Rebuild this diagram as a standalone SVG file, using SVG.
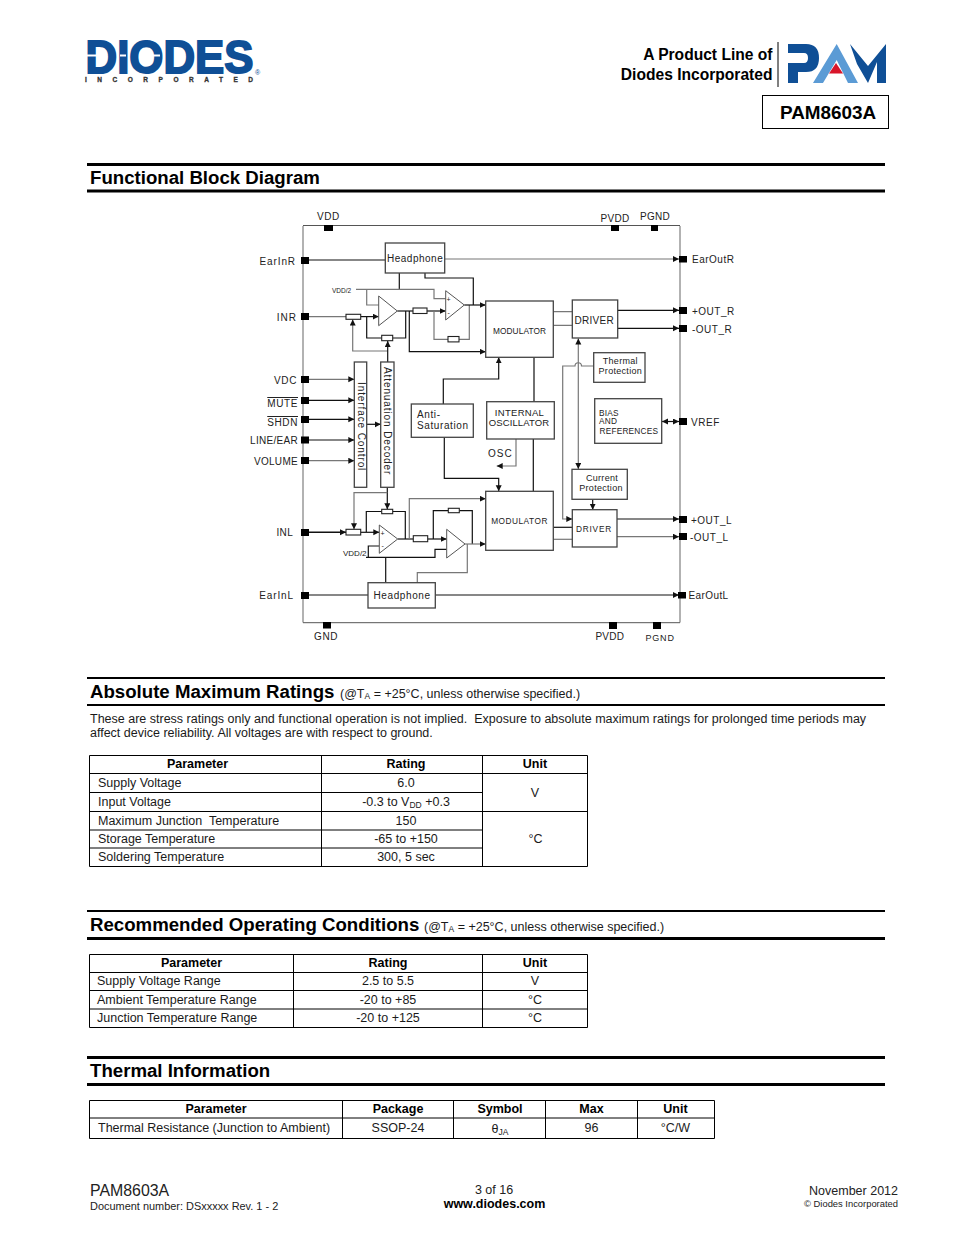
<svg xmlns="http://www.w3.org/2000/svg" width="954" height="1235" viewBox="0 0 954 1235">
<style>
text{font-family:"Liberation Sans",Arial,sans-serif;fill:#000;white-space:pre}
.h{font-size:18.65px;font-weight:700}
.p{font-size:12.5px;fill:#1a1a1a}
.b{font-size:12.5px;font-weight:700}
.m{text-anchor:middle}
.e{text-anchor:end}
.d{font-size:10px;fill:#222;letter-spacing:.6px}
.o{font-size:10px;fill:#222;letter-spacing:.5px}
.s{font-size:9px;fill:#222;letter-spacing:.3px}
.t{font-size:8.3px;fill:#222;letter-spacing:.2px}
.box{fill:#fff;stroke:#444;stroke-width:1.3}
.res{fill:#fff;stroke:#222;stroke-width:1.1}
.amp{fill:#fff;stroke:#555;stroke-width:1}
.pin{fill:#000}
.k{fill:none;stroke:#111;stroke-width:1.2}
.g{fill:none;stroke:#777;stroke-width:1.2}
.a{marker-end:url(#ah)}
.tb{fill:none;stroke:#000;stroke-width:1}
.rule{stroke:#000}
</style>
<defs>
<marker id="ah" markerUnits="userSpaceOnUse" markerWidth="7" markerHeight="7" refX="6" refY="3" orient="auto"><path d="M0 0L6 3L0 6Z" fill="#111"/></marker>
<marker id="as" markerUnits="userSpaceOnUse" markerWidth="7" markerHeight="7" refX="6" refY="3" orient="auto-start-reverse"><path d="M0 0L6 3L0 6Z" fill="#111"/></marker>
</defs>
<rect width="954" height="1235" fill="#fff"/>

<g id="diodes-logo">
<text x="85.500" y="72.500" font-size="46" font-weight="700" textLength="168" lengthAdjust="spacingAndGlyphs" style="fill:#0f4f96;stroke:#0f4f96;stroke-width:1.9">DIODES</text>
<path d="M85 55.500H103M120 55.500H126M147 55.500H160" stroke="#fff" stroke-width="2" fill="none"/>
<text x="85" y="82" font-size="6.500" font-weight="700" textLength="168" style="fill:#333;stroke:#333;stroke-width:.3">INCORPORATED</text>
<text x="255" y="75" font-size="7" style="fill:#0f4f96">®</text>
</g>
<g id="pam-logo">
<text class="e" x="772.500" y="60" font-size="15.600" font-weight="700">A Product Line of</text>
<text class="e" x="772.500" y="80" font-size="15.600" font-weight="700">Diodes Incorporated</text>
<path d="M778 42V87" stroke="#000" stroke-width="1"/>
<path d="M788 44H806Q819 44 819 58Q819 72 806 72H798V83H788V63H804Q808 63 808 58Q808 53 804 53H788Z" fill="#0f4f96"/>
<path d="M850 44L868 66L886 44V83H877V62L868 83L857 64Z" fill="#0f4f96"/>
<path d="M836.700 44L858 83H848L836.700 60L823 83H813Z" fill="#5b9bd5"/>
<path d="M829 73.500H843L836 63Z" fill="#d8152a"/>
</g>
<g id="part-box">
<rect x="762.500" y="95.500" width="126" height="33" fill="#fff" stroke="#000"/>
<text x="780" y="119" font-size="18.900" font-weight="700">PAM8603A</text>
</g>

<g id="headers">
<path class="rule" stroke-width="3" d="M87 164.500H885M87 191H885"/>
<text class="h" x="90" y="184">Functional Block Diagram</text>
<path class="rule" stroke-width="2" d="M87 678H885M87 705H885"/>
<text class="h" x="90" y="698">Absolute Maximum Ratings</text>
<text class="p" x="340" y="698">(@T<tspan font-size="8.500" dy="1">A</tspan><tspan dy="-1"> = +25°C, unless otherwise specified.)</tspan></text>
<path class="rule" stroke-width="2" d="M87 911H885"/><path class="rule" stroke-width="3" d="M87 938.500H885"/>
<text class="h" x="90" y="931">Recommended Operating Conditions</text>
<text class="p" x="424" y="931">(@T<tspan font-size="8.500" dy="1">A</tspan><tspan dy="-1"> = +25°C, unless otherwise specified.)</tspan></text>
<path class="rule" stroke-width="3" d="M87 1057.500H885M87 1084.500H885"/>
<text class="h" x="90" y="1077">Thermal Information</text>
</g>

<g id="connectors">
<path class="k" d="M309 260H385"/>
<path class="g a" d="M445 259H679"/>
<path class="k" d="M399.300 273V289"/>
<path class="g" d="M356 289.300H434V298.700H446M366.700 289.300V305H379"/>
<path class="k" d="M425 273V278H473.300V305"/>
<path class="g" d="M309 316.600H346"/>
<path class="k a" d="M360.700 316.600H378.700"/>
<path class="k" d="M366.700 317V338H381.700M392.700 338H405.700V311"/>
<path class="k" d="M397.300 311H413"/>
<path class="k a" d="M427 311H445.700"/>
<path class="g" d="M434 311V339.300H448M459 339.300H469.300V305"/>
<path class="k a" d="M464.300 305H485.700"/>
<path class="k a" d="M409.300 311V351.700H485.700"/>
<path class="g a" d="M387.700 351H352.700V319.500"/>
<path class="k a" d="M387.700 362V341"/>
<path class="g a" d="M309 379.300H354.300"/>
<path class="k a" d="M309 400.300H354.300"/>
<path class="k a" d="M309 419.300H354.300"/>
<path class="k a" d="M366.700 424.300H380.700"/>
<path class="k a" d="M309 440H354.300"/>
<path class="g a" d="M309 460.700H354.300"/>
<path class="k a" d="M387.300 487.300V509.300"/>
<path class="g a" d="M387.300 492.700H354V529.300"/>
<path class="k a" d="M309 532.300H346" style="stroke-width:1.500"/>
<path class="k a" d="M360.700 532.300H379.300"/>
<path class="k" d="M366.300 532V511.500H381.700"/>
<path class="k" d="M392.700 511.500H405.300V539"/>
<path class="k" d="M397.700 539H413.300"/>
<path class="k a" d="M427.700 539H446.700"/>
<path class="g a" d="M409.300 539V498.700H485.700"/>
<path class="k" d="M433.300 539V510.700H448.300M459.300 510.700H472.300V544"/>
<path class="g a" d="M465 544H485.700"/>
<path class="k" d="M366 557.300H435V549.300H446.700M368.300 557.300V546H379.300"/>
<path class="k" d="M385.700 557.300V582.700"/>
<path class="g" d="M467.300 544V572.700H417.300V582.700"/>
<path class="k" d="M309 595H368"/>
<path class="k a" d="M435.300 595H679"/>
<path class="g" d="M553.300 311.700H572.300M553.300 325.300H572.300"/>
<path class="k a" d="M617.700 310.300H679"/>
<path class="k a" d="M617.700 328.300H679"/>
<path class="k" d="M534 357.300V401.700M533.300 439V491.300"/>
<path class="g a" d="M516 439V466H496.700"/>
<path class="k a" d="M443.300 404V379H498.700V357.300"/>
<path class="k a" d="M444.300 437.300V478.300H498.700V491.300"/>
<path class="g" d="M578.300 338.500V469" style="marker-start:url(#as);marker-end:url(#as)"/>
<path class="g a" d="M593.700 366H581.500A3.200 3.200 0 0 0 575 366H562.700V519H572.300"/>
<path class="k" d="M662 421.500H679" style="marker-start:url(#as);marker-end:url(#as)"/>
<path class="k a" d="M592.700 499.300V509.700"/>
<path class="k" d="M553.300 527.300H572.300"/>
<path class="g" d="M553.300 539.300H572.300"/>
<path class="k a" d="M617 519H679"/>
<path class="g a" d="M617 536.700H679"/>
</g>

<g id="frame">
<path d="M303 226V622.500M680 226V622.500" stroke="#999" stroke-width="1.500" fill="none"/>
<path d="M303 225.500H680M303 622.700H680" stroke="#555" stroke-width="1" fill="none"/>
</g>

<g id="pin-vdd"><rect class="pin" x="324" y="225" width="9" height="6"/><text class="d" x="317" y="220">VDD</text></g>
<g id="pin-pvdd-top"><rect class="pin" x="611" y="225" width="8" height="6"/><text class="s" x="600.500" y="221.500" style="font-size:10px">PVDD</text></g>
<g id="pin-pgnd-top"><rect class="pin" x="651" y="225" width="7" height="6"/><text class="s" x="640" y="220" style="font-size:10px">PGND</text></g>
<g id="pin-earinr"><rect class="pin" x="301" y="257" width="8" height="7"/><text class="d e" x="296" y="265" style="letter-spacing:.9px">EarInR</text></g>
<g id="pin-inr"><rect class="pin" x="301" y="313" width="8" height="7"/><text class="d e" x="297" y="321" style="letter-spacing:1px">INR</text></g>
<g id="pin-vdc"><rect class="pin" x="301" y="376" width="8" height="7"/><text class="d e" x="297" y="384">VDC</text></g>
<g id="pin-mute"><rect class="pin" x="301" y="397" width="8" height="7"/><text class="d e" x="298" y="407" text-decoration="overline">MUTE</text></g>
<g id="pin-shdn"><rect class="pin" x="301" y="416" width="8" height="7"/><text class="d e" x="298" y="426" text-decoration="overline">SHDN</text></g>
<g id="pin-lineear"><rect class="pin" x="301" y="436.500" width="8" height="7"/><text class="d e" x="298" y="444" style="letter-spacing:.3px">LINE/EAR</text></g>
<g id="pin-volume"><rect class="pin" x="301" y="457" width="8" height="7"/><text class="d e" x="298" y="465" style="letter-spacing:.3px">VOLUME</text></g>
<g id="pin-inl"><rect class="pin" x="301" y="529" width="8" height="7"/><text class="d e" x="293" y="536" style="letter-spacing:.3px">INL</text></g>
<g id="pin-earinl"><rect class="pin" x="301" y="592" width="8" height="7"/><text class="d e" x="294" y="599" style="letter-spacing:.9px">EarInL</text></g>
<g id="pin-gnd"><rect class="pin" x="323" y="622" width="8" height="6.500"/><text class="d" x="314" y="640">GND</text></g>
<g id="pin-pvdd-bottom"><rect class="pin" x="609" y="622" width="8" height="7"/><text class="d" x="595.500" y="640" style="letter-spacing:.2px">PVDD</text></g>
<g id="pin-pgnd-bottom"><rect class="pin" x="653" y="622" width="8" height="7"/><text class="s" x="645.500" y="641" style="letter-spacing:.8px">PGND</text></g>
<g id="pin-earoutr"><rect class="pin" x="679" y="256" width="8" height="6.500"/><text class="o" x="692" y="262.500">EarOutR</text></g>
<g id="pin-outr-p"><rect class="pin" x="679" y="307" width="8" height="7"/><text class="o" x="692" y="315">+OUT_R</text></g>
<g id="pin-outr-n"><rect class="pin" x="679" y="325" width="8" height="7"/><text class="o" x="692" y="333">-OUT_R</text></g>
<g id="pin-vref"><rect class="pin" x="679" y="418" width="8" height="7"/><text class="d" x="691" y="426">VREF</text></g>
<g id="pin-outl-p"><rect class="pin" x="679" y="516" width="8" height="7"/><text class="o" x="691" y="524">+OUT_L</text></g>
<g id="pin-outl-n"><rect class="pin" x="679" y="533" width="8" height="7"/><text class="o" x="690" y="541">-OUT_L</text></g>
<g id="pin-earoutl"><rect class="pin" x="678" y="592" width="8" height="6.500"/><text class="d" x="688.500" y="599" style="letter-spacing:.4px">EarOutL</text></g>

<g id="headphone-r"><rect class="box" x="385.300" y="243" width="59.400" height="30"/><text class="d" x="387" y="262" style="letter-spacing:.5px">Headphone</text></g>
<g id="headphone-l"><rect class="box" x="368" y="582.700" width="67.300" height="25.300"/><text class="d" x="373.500" y="599">Headphone</text></g>
<g id="vdd2-r"><text x="332" y="293" font-size="6.500" style="fill:#222">VDD/2</text></g>
<g id="vdd2-l"><text x="343" y="556" font-size="8" style="fill:#222">VDD/2</text></g>
<g id="res-r-in"><rect class="res" x="346" y="314.300" width="14.700" height="5"/></g>
<g id="res-r-fb"><rect class="res" x="381.700" y="335.300" width="11" height="5.400"/></g>
<g id="res-r-mid"><rect class="res" x="413" y="308" width="14" height="5.500"/></g>
<g id="res-r-2"><rect class="res" x="448" y="336.500" width="11" height="5.400"/></g>
<g id="amp-r1"><path class="amp" d="M378.700 296L397.300 311L378.700 325.700Z"/></g>
<g id="amp-r2"><path class="amp" d="M445.700 290.700L464.300 305L445.700 320Z"/><text x="446.500" y="302" font-size="7" style="fill:#222">+</text><text x="447.500" y="315" font-size="7" style="fill:#222">-</text></g>
<g id="res-l-in"><rect class="res" x="346" y="529.300" width="14.700" height="5.700"/></g>
<g id="res-l-fb"><rect class="res" x="381.700" y="509.300" width="11" height="4.400"/></g>
<g id="res-l-mid"><rect class="res" x="413.300" y="535.700" width="14.400" height="6"/></g>
<g id="res-l-2"><rect class="res" x="448.300" y="508.300" width="11" height="4.400"/></g>
<g id="amp-l1"><path class="amp" d="M379.300 525L397.700 539L379.300 553.300Z"/><text x="380.500" y="536" font-size="7" style="fill:#222">+</text><text x="381.500" y="548" font-size="7" style="fill:#222">-</text></g>
<g id="amp-l2"><path class="amp" d="M446.700 529.300L465 544L446.700 558Z"/></g>
<g id="interface-control"><rect class="box" x="354.300" y="362" width="12.400" height="125.300"/><text class="d" transform="translate(357.500 382) rotate(90)" style="letter-spacing:.9px">Interface Control</text></g>
<g id="attenuation-decoder"><rect class="box" x="380.700" y="362" width="13.300" height="125.300"/><text class="d" transform="translate(384 367) rotate(90)" style="letter-spacing:.9px">Attenuation Decoder</text></g>
<g id="modulator-r"><rect class="box" x="485.700" y="301" width="67.600" height="56.300"/><text class="t m" x="519.500" y="334" style="letter-spacing:.1px">MODULATOR</text></g>
<g id="modulator-l"><rect class="box" x="485.700" y="491.300" width="67.600" height="59"/><text class="t m" x="519.500" y="524" style="letter-spacing:.5px">MODULATOR</text></g>
<g id="driver-r"><rect class="box" x="572.300" y="300" width="45.400" height="38"/><text class="d" x="574.500" y="323.500" style="letter-spacing:.3px">DRIVER</text></g>
<g id="driver-l"><rect class="box" x="572.300" y="509.700" width="44.700" height="37.300"/><text class="t m" x="594" y="532" style="letter-spacing:.8px">DRIVER</text></g>
<g id="thermal-protection"><rect class="box" x="593.700" y="352.700" width="51.300" height="29.600"/><text class="s m" x="620.300" y="364">Thermal</text><text class="s m" x="620.300" y="374">Protection</text></g>
<g id="bias"><rect class="box" x="594.700" y="398.700" width="67" height="44.600"/><text class="t" x="599" y="416">BIAS</text><text class="t" x="599" y="424">AND</text><text class="t" x="599.500" y="434">REFERENCES</text></g>
<g id="oscillator"><rect class="box" x="486.700" y="401.700" width="67.600" height="37.300"/><text class="d m" x="519.500" y="416" style="font-size:9.500px;letter-spacing:.3px">INTERNAL</text><text class="d m" x="519" y="426" style="font-size:9.500px;letter-spacing:.1px">OSCILLATOR</text></g>
<g id="osc-label"><text class="d" x="488" y="457" style="letter-spacing:1px">OSC</text></g>
<g id="anti-saturation"><rect class="box" x="411.300" y="404" width="62" height="33.300"/><text class="d" x="417" y="418">Anti-</text><text class="d" x="417" y="429">Saturation</text></g>
<g id="current-protection"><rect class="box" x="572" y="469.300" width="55.300" height="30"/><text class="s m" x="602" y="481">Current</text><text class="s m" x="601" y="491">Protection</text></g>

<g id="abs-text">
<text class="p" x="90" y="723">These are stress ratings only and functional operation is not implied.  Exposure to absolute maximum ratings for prolonged time periods may</text>
<text class="p" x="90" y="737">affect device reliability. All voltages are with respect to ground.</text>
</g>
<g id="table-abs">
<path class="tb" d="M89.500 755.500H587.500V866.500H89.500ZM321.500 755.500V866.500M482.500 755.500V866.500M89.500 773.500H587.500M89.500 792.500H482.500M89.500 811.500H587.500M89.500 830H482.500M89.500 848H482.500"/>
<text class="b m" x="197.500" y="768">Parameter</text><text class="b m" x="406" y="768">Rating</text><text class="b m" x="535" y="768">Unit</text>
<text class="p" x="98" y="787">Supply Voltage</text><text class="p m" x="406" y="787">6.0</text>
<text class="p" x="98" y="806">Input Voltage</text><text class="p m" x="406" y="806">-0.3 to V<tspan font-size="8.500" dy="1.500">DD</tspan><tspan dy="-1.500"> +0.3</tspan></text>
<text class="p" x="98" y="825">Maximum Junction  Temperature</text><text class="p m" x="406" y="825">150</text>
<text class="p" x="98" y="843">Storage Temperature</text><text class="p m" x="406" y="843">-65 to +150</text>
<text class="p" x="98" y="861">Soldering Temperature</text><text class="p m" x="406" y="861">300, 5 sec</text>
<text class="p m" x="535" y="797">V</text><text class="p m" x="535.500" y="843">°C</text>
</g>
<g id="table-rec">
<path class="tb" d="M89.500 954.500H587.500V1027.500H89.500ZM293.500 954.500V1027.500M482.500 954.500V1027.500M89.500 972.500H587.500M89.500 990.500H587.500M89.500 1009H587.500"/>
<text class="b m" x="191.500" y="967">Parameter</text><text class="b m" x="388" y="967">Rating</text><text class="b m" x="535" y="967">Unit</text>
<text class="p" x="97" y="985">Supply Voltage Range</text><text class="p m" x="388" y="985">2.5 to 5.5</text><text class="p m" x="535" y="985">V</text>
<text class="p" x="97" y="1004">Ambient Temperature Range</text><text class="p m" x="388" y="1004">-20 to +85</text><text class="p m" x="535" y="1004">°C</text>
<text class="p" x="97" y="1022">Junction Temperature Range</text><text class="p m" x="388" y="1022">-20 to +125</text><text class="p m" x="535" y="1022">°C</text>
</g>
<g id="table-thermal">
<path class="tb" d="M89.500 1100.500H714.500V1138.500H89.500ZM342.500 1100.500V1138.500M453.500 1100.500V1138.500M545.500 1100.500V1138.500M637.500 1100.500V1138.500M89.500 1118H714.500"/>
<text class="b m" x="216" y="1113">Parameter</text><text class="b m" x="398" y="1113">Package</text><text class="b m" x="500" y="1113">Symbol</text><text class="b m" x="591.500" y="1113">Max</text><text class="b m" x="675.500" y="1113">Unit</text>
<text class="p" x="98" y="1132">Thermal Resistance (Junction to Ambient)</text><text class="p m" x="398" y="1132">SSOP-24</text>
<text class="p m" x="500" y="1133">θ<tspan font-size="8.500" dy="1.500">JA</tspan></text>
<text class="p m" x="591.500" y="1132">96</text><text class="p m" x="675.500" y="1132">°C/W</text>
</g>
<g id="footer">
<text x="90" y="1196" font-size="15.900" style="fill:#222">PAM8603A</text>
<text x="90" y="1210" font-size="10.950" style="fill:#222">Document number: DSxxxxx Rev. 1 - 2</text>
<text class="m" x="494" y="1194" font-size="12.500" style="fill:#222">3 of 16</text>
<text class="m" x="494.500" y="1208" font-size="12.500" font-weight="700">www.diodes.com</text>
<text class="e" x="898" y="1195" font-size="12.500" style="fill:#222">November 2012</text>
<text class="e" x="898" y="1207" font-size="9.400" style="fill:#222">© Diodes Incorporated</text>
</g>
</svg>
